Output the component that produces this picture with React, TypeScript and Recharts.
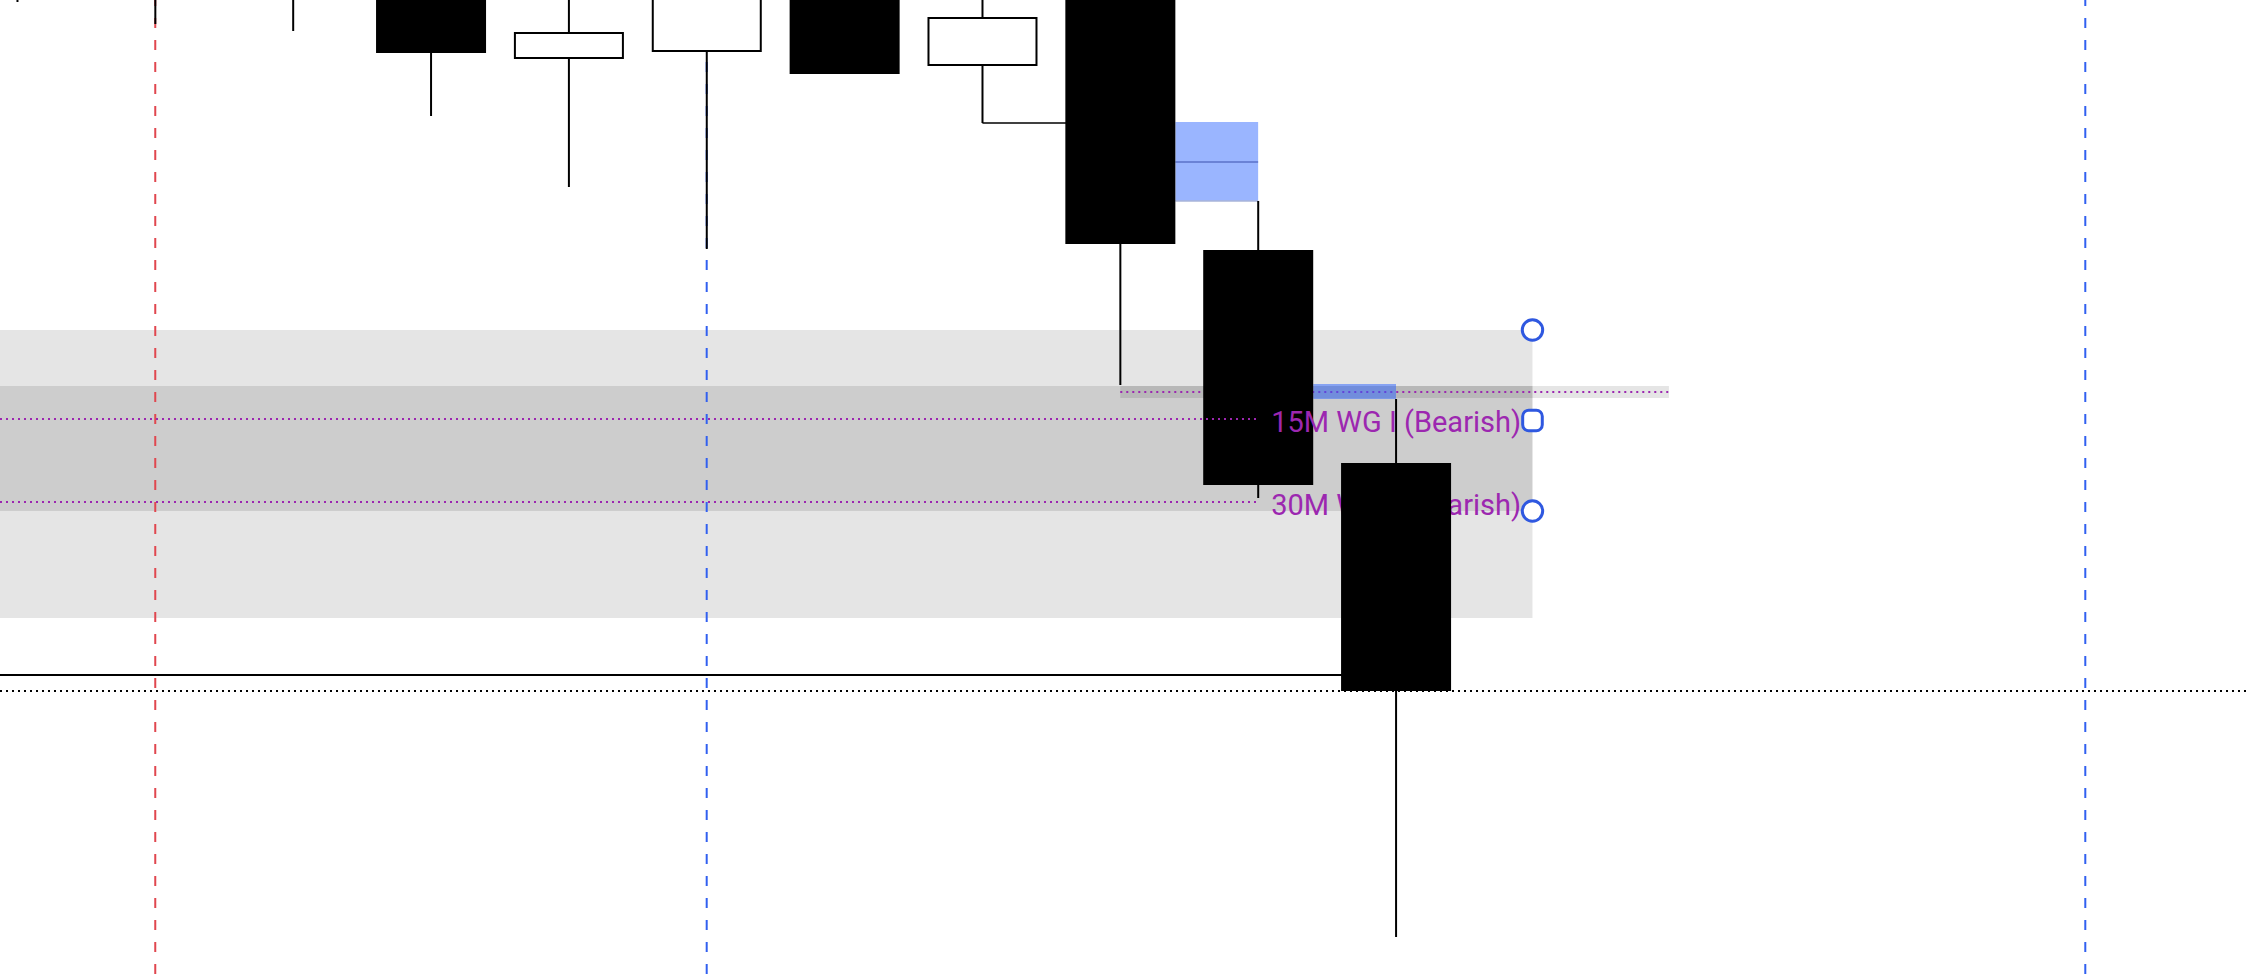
import React from 'react';
import {
  ComposedChart,
  Bar,
  XAxis,
  YAxis,
  ReferenceLine,
  ReferenceArea,
  ReferenceDot,
} from 'recharts';

// ---------- data ----------
const candleIndex = [0, 1, 2, 3, 4, 5, 6, 7, 8, 9, 10];
const opens = [21502.0, 21500.25, 21501.25, 21500.5, 21497.05, 21497.4, 21501.5, 21496.7, 21500.5, 21487.5, 21476.85];
const highs = [21503.0, 21502.5, 21502.25, 21501.5, 21501.0, 21502.0, 21502.5, 21500.5, 21501.0, 21489.95, 21480.05];
const lows = [21499.9, 21498.8, 21498.45, 21494.2, 21490.65, 21487.55, 21496.3, 21493.85, 21480.75, 21475.1, 21453.15];
const closes = [21500.75, 21501.5, 21500.25, 21497.35, 21498.4, 21501.0, 21496.3, 21499.15, 21487.8, 21475.75, 21465.45];

// axis window (bar index / price)
const X_MIN = -0.1262;
const X_MAX = 16.1657;
const Y_MIN = 21451;
const Y_MAX = 21500;

// vertical session markers (bar index)
const redMarkers = [1];
const blueMarkers = [5, 15];

// zone (rectangles)
const zoneA = [21483.5, 21474.45];
const zoneB = [21480.7, 21469.1];
const ZONE_RIGHT = 10.99;

// levels
const wgLevels = [21479.05, 21474.9];
const wgLabels = ['15M WG I (Bearish)', '30M WG I (Bearish)'];
const WG_END = 9.0;

const sweptLevel = 21480.4; // dotted level from bar 8 low
const sweptBand = [21480.7, 21480.1];
const sweptRange = [8, 11.98];
const hoverBlue = { x: [9.4, 10], y: [21480.8, 21480.05] };

const fvgBox = { x: [8.4, 9.0], y: [21493.9, 21489.95], mid: 21491.9 };
const wickLow7 = { price: 21493.85, x: [7, 8] };
const solidLevel = { price: 21466.25, xEnd: 10 };

// ---------- styles ----------
const PURPLE = '#9C27B0';
const RED = '#E0474F';
const BLUE = '#3160F0';
const HANDLE = '#2962FF';
const HANDLE_RING = '#2F58E0';
const FONT = 'Roboto, "Noto Sans", sans-serif';

const LAST = candleIndex[candleIndex.length - 1];

const data = candleIndex.map((i, k) => ({
  i,
  open: opens[k],
  high: highs[k],
  low: lows[k],
  close: closes[k],
}));

const makeCandle = (drawLast: boolean) => (props: any) => {
  const { x, y, width, height, payload } = props;
  if (!payload || (payload.i === LAST) !== drawLast) return <g />;
  const { open, close, high, low } = payload;
  const range = high - low || 1;
  const py = (v: number) => y + ((high - v) / range) * height;
  const cx = x + width / 2;
  const top = py(Math.max(open, close));
  const bot = py(Math.min(open, close));
  const bull = close > open;
  return (
    <g>
      <line x1={cx} x2={cx} y1={y} y2={top} stroke="#000" strokeWidth={2} />
      <line x1={cx} x2={cx} y1={bot} y2={y + height} stroke="#000" strokeWidth={2} />
      {bull ? (
        <rect x={x + 1} y={top + 1} width={width - 2} height={Math.max(0, bot - top - 2)} fill="#fff" stroke="#000" strokeWidth={2} />
      ) : (
        <rect x={x} y={top} width={width} height={Math.max(0, bot - top)} fill="#000" />
      )}
    </g>
  );
};

const vShape = (color: string) => (p: any) => (
  <line
    x1={p.x1}
    x2={p.x2}
    y1={Math.min(p.y1, p.y2)}
    y2={Math.max(p.y1, p.y2)}
    stroke={color}
    strokeWidth={2}
    strokeDasharray="10 12"
    strokeDashoffset={4}
  />
);

const hShape = (color: string, width: number, dash?: string) => (p: any) => (
  <line
    x1={Math.min(p.x1, p.x2)}
    x2={Math.max(p.x1, p.x2)}
    y1={p.y1}
    y2={p.y2}
    stroke={color}
    strokeWidth={width}
    strokeDasharray={dash}
  />
);

const labelShape = (label: string) => (p: any) => (
  <g>
    <line
      x1={Math.min(p.x1, p.x2)}
      x2={Math.max(p.x1, p.x2)}
      y1={p.y1}
      y2={p.y2}
      stroke={PURPLE}
      strokeWidth={2}
      strokeDasharray="2 4"
    />
    <text x={Math.max(p.x1, p.x2) + 13} y={p.y1 + 12.5} fill={PURPLE} fontSize={29} fontFamily={FONT}>
      {label}
    </text>
  </g>
);

const circleHandle = (p: any) => (
  <circle cx={p.cx} cy={p.cy} r={10.2} fill="#fff" stroke={HANDLE_RING} strokeWidth={3} />
);
const squareHandle = (p: any) => (
  <rect x={p.cx - 9.8} y={p.cy - 10.2} width={19.6} height={20.4} rx={6} fill="#fff" stroke={HANDLE_RING} strokeWidth={3} />
);

export default function App() {
  return (
    <div style={{ position: 'absolute', left: 0, top: 0, width: 2246, height: 980, background: '#fff' }}>
      <ComposedChart width={2246} height={980} data={data} margin={{ top: 0, right: 0, bottom: 0, left: 0 }}>
        <XAxis dataKey="i" type="number" domain={[X_MIN, X_MAX]} allowDataOverflow hide />
        <XAxis xAxisId="b" dataKey="i" type="number" domain={[X_MIN, X_MAX]} allowDataOverflow hide />
        <YAxis type="number" domain={[Y_MIN, Y_MAX]} allowDataOverflow hide />

        <ReferenceArea x1={X_MIN} x2={ZONE_RIGHT} y1={zoneA[1]} y2={zoneA[0]} fill="#000" fillOpacity={0.1} stroke="none" zIndex={10} />
        <ReferenceArea x1={X_MIN} x2={ZONE_RIGHT} y1={zoneB[1]} y2={zoneB[0]} fill="#000" fillOpacity={0.1} stroke="none" zIndex={11} />

        {redMarkers.map((m) => (
          <ReferenceLine key={'r' + m} x={m} shape={vShape(RED)} zIndex={20} />
        ))}
        {blueMarkers.map((m) => (
          <ReferenceLine key={'b' + m} x={m} shape={vShape(BLUE)} zIndex={21} />
        ))}

        <ReferenceLine
          segment={[{ x: X_MIN, y: solidLevel.price }, { x: solidLevel.xEnd, y: solidLevel.price }]}
          shape={hShape('#000', 2)}
          zIndex={23}
        />
        <ReferenceLine y={closes[closes.length - 1]} shape={hShape('#000', 2, '2 4')} zIndex={24} />
        <ReferenceLine
          segment={[{ x: wickLow7.x[0], y: wickLow7.price }, { x: wickLow7.x[1], y: wickLow7.price }]}
          shape={hShape('#000', 1.5)}
          zIndex={25}
        />

        <ReferenceArea x1={sweptRange[0]} x2={sweptRange[1]} y1={sweptBand[1]} y2={sweptBand[0]} fill="#000" fillOpacity={0.1} stroke="none" zIndex={26} />
        <ReferenceLine
          segment={[{ x: sweptRange[0], y: sweptLevel }, { x: sweptRange[1], y: sweptLevel }]}
          shape={hShape(PURPLE, 2, '2 4')}
          zIndex={27}
        />
        <ReferenceArea x1={hoverBlue.x[0]} x2={hoverBlue.x[1]} y1={hoverBlue.y[1]} y2={hoverBlue.y[0]} fill={HANDLE} fillOpacity={0.5} stroke="none" zIndex={28} />

        <ReferenceArea x1={fvgBox.x[0]} x2={fvgBox.x[1]} y1={fvgBox.y[1]} y2={fvgBox.y[0]} fill={HANDLE} fillOpacity={0.47} stroke="none" zIndex={29} />
        <ReferenceLine
          segment={[{ x: fvgBox.x[0], y: fvgBox.mid }, { x: fvgBox.x[1], y: fvgBox.mid }]}
          shape={hShape('#5A72C8', 1.7)}
          zIndex={30}
        />
        <ReferenceLine
          segment={[{ x: fvgBox.x[0], y: fvgBox.y[1] }, { x: fvgBox.x[1], y: fvgBox.y[1] }]}
          shape={hShape('#A8B4D8', 1.5)}
          zIndex={31}
        />

        <Bar dataKey={(d: any) => [d.low, d.high]} barSize={110} shape={makeCandle(false)} isAnimationActive={false} zIndex={40} />

        {wgLevels.map((lv, k) => (
          <ReferenceLine
            key={'wg' + k}
            segment={[{ x: X_MIN, y: lv }, { x: WG_END, y: lv }]}
            shape={labelShape(wgLabels[k])}
            zIndex={50 + k}
          />
        ))}

        <Bar xAxisId="b" dataKey={(d: any) => [d.low, d.high]} barSize={110} shape={makeCandle(true)} isAnimationActive={false} zIndex={60} />

        <ReferenceDot x={ZONE_RIGHT} y={zoneA[0]} r={10} shape={circleHandle} zIndex={70} />
        <ReferenceDot x={ZONE_RIGHT} y={(zoneA[0] + zoneA[1]) / 2} r={10} shape={squareHandle} zIndex={71} />
        <ReferenceDot x={ZONE_RIGHT} y={zoneA[1]} r={10} shape={circleHandle} zIndex={72} />
      </ComposedChart>
    </div>
  );
}
